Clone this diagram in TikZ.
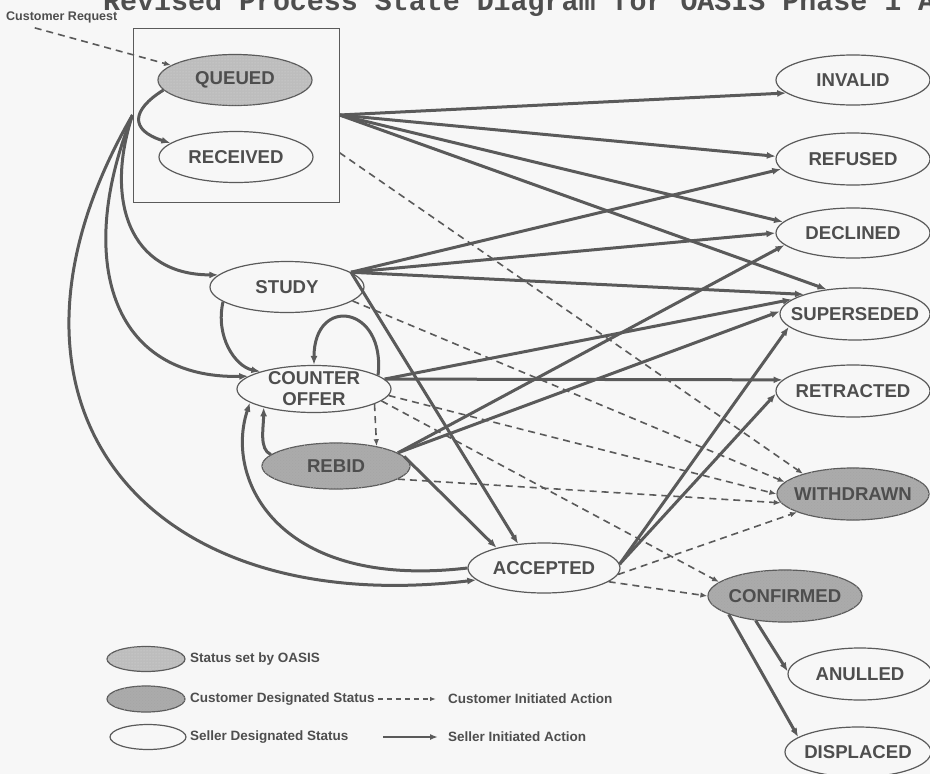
\documentclass[tikz,border=0pt]{standalone}
\usepackage{fontspec}
\setmainfont{Liberation Sans}
\newfontfamily\monofont{Liberation Mono}
\usetikzlibrary{shapes.geometric,arrows.meta,patterns}
\definecolor{lc}{HTML}{5A5A5A}
\definecolor{tc}{HTML}{4E4E4E}
\definecolor{bg}{HTML}{F7F7F7}
\definecolor{oasisfill}{HTML}{BDBDBD}
\definecolor{custfill}{HTML}{ABABAB}
\newcommand\nfont{\fontsize{18.6}{21}\selectfont\bfseries}
\newcommand\lgfont{\fontsize{13.5}{15}\selectfont\bfseries}
\newcommand\ttlfont{\monofont\bfseries\fontsize{28.3}{30}\selectfont}
\begin{document}
\begin{tikzpicture}[x=1pt,y=-1pt,
  lbl/.style={text=tc, font=\nfont, align=center, inner sep=0pt},
  st/.style={ellipse, draw=lc, line width=1.2pt, inner sep=0pt,
    minimum width=154pt, minimum height=51pt, fill=bg, label={[lbl]center:#1}},
  oasisst/.style={st=#1, fill=oasisfill, postaction={pattern=dots, pattern color=white!85!black}},
  custst/.style={st=#1, fill=custfill, postaction={pattern=crosshatch dots, pattern color=black!35}},
  sel/.style={draw=lc, line width=3pt, -{Latex[length=9pt,width=7pt]}},
  cust/.style={draw=lc, line width=1.6pt, dash pattern=on 7pt off 5pt, -{Latex[length=7pt,width=5.5pt]}},
  lgtext/.style={anchor=west, inner sep=0pt, text=tc, font=\lgfont},
]
\clip (0,0) rectangle (930,774);
\fill[bg] (0,0) rectangle (930,774);

% title and customer request
\node[anchor=base west, inner sep=0pt, font=\ttlfont, text=tc] (title) at (103,10) {Revised Process State Diagram for OASIS Phase 1 A};
\node[anchor=west, inner sep=0pt, font=\fontsize{12.5}{13}\selectfont\bfseries, text=tc] (cr) at (6,17) {Customer Request};

% states
\node[draw=lc, line width=1pt, minimum width=206pt, minimum height=174pt, inner sep=0pt] (box) at (236,115) {};
\node[oasisst={QUEUED}] (queued) at (235,80) {};
\node[st={RECEIVED}] (received) at (236,157) {};
\node[st={STUDY}] (study) at (287,287) {};
\node[st={COUNTER\\OFFER}, minimum height=47pt] (co) at (314,389) {};
\node[custst={REBID}, minimum width=148pt, minimum height=46pt] (rebid) at (336,466) {};
\node[st={ACCEPTED}, minimum width=152pt, minimum height=50pt] (acc) at (544,568) {};
\node[st={INVALID}, minimum height=50pt] (invalid) at (853,80) {};
\node[st={REFUSED}, minimum height=52pt] (refused) at (853,159) {};
\node[st={DECLINED}, minimum height=50pt] (declined) at (853,233) {};
\node[st={SUPERSEDED}, minimum width=150pt, minimum height=52pt] (superseded) at (855,314) {};
\node[st={RETRACTED}, minimum height=52pt] (retracted) at (853,391) {};
\node[custst={WITHDRAWN}, minimum width=152pt, minimum height=52pt] (withdrawn) at (853,494) {};
\node[custst={CONFIRMED}, minimum height=52pt] (confirmed) at (785,596) {};
\node[st={ANULLED}, minimum width=144pt, minimum height=52pt] (anulled) at (860,674) {};
\node[st={DISPLACED}, minimum width=146pt, minimum height=50pt] (displaced) at (858,752) {};

% seller initiated actions (curves)
\draw[sel] (queued.188) .. controls +(-32,20) and +(-41,-13) .. (received.168);
\draw[sel] (box.west) .. controls +(-28,85) and +(-89,0) .. (study.170);
\draw[sel] (box.west) .. controls +(-58,145) and +(-137,3) .. (co.169);
\draw[sel] (box.west) .. controls +(-165,285) and +(-337,40) .. (acc.190);
\draw[sel] (acc.180) .. controls +(-188,22) and +(-26,78) .. (co.192);
\draw[sel] (rebid.170) .. controls +(-12,-5) and +(0,20) .. (co.200);
\draw[sel] (study.193) .. controls +(-8,35) and +(-25,-5) .. (co.162);
\draw[sel] (co.12) .. controls +(8,-70) and +(0,-70) .. (co.90);

% seller initiated actions (straight)
\draw[sel] (box.east) -- (invalid.191);
\draw[sel] (box.east) -- (refused.178);
\draw[sel] (box.east) -- (declined.171);
\draw[sel] (box.east) -- (superseded.139);
\draw[sel] (study.13) -- (refused.188);
\draw[sel] (study.13) -- (declined.180);
\draw[sel] (study.13) -- (superseded.159);
\draw[sel] (study.13) -- (acc.137);
\draw[sel] (co.8) -- (superseded.167);
\draw[sel] (co.8) -- (retracted.171);
\draw[sel] (rebid.12) -- (declined.190);
\draw[sel] (rebid.12) -- (superseded.178);
\draw[sel] (rebid.8) -- (acc.157);
\draw[sel] (acc.3) -- (superseded.191);
\draw[sel] (acc.3) -- (retracted.182);
\draw[sel] (confirmed.220) -- (anulled.178);
\draw[sel] (confirmed.198) -- (displaced.166);

% customer initiated actions
\draw[cust] ([xshift=-27pt,yshift=-5pt]cr.south) -- (queued.167);
\draw[cust] (box.-20) -- (withdrawn.158);
\draw[cust] (study.-12) -- (withdrawn.170);
\draw[cust] (co.-5) -- (withdrawn.180);
\draw[cust] (co.-10) -- (confirmed.168);
\draw[cust] (co.-14) -- (rebid.26);
\draw[cust] (rebid.-12) -- (withdrawn.187);
\draw[cust] (acc.-5) -- (withdrawn.198);
\draw[cust] (acc.-12) -- (confirmed.180);

% legend
\node[oasisst={}, minimum width=78pt, minimum height=25pt] (lg1) at (146,659) {};
\node[lgtext] (lt1) at (190,659) {Status set by OASIS};
\node[custst={}, minimum width=78pt, minimum height=26pt] (lg2) at (146,699) {};
\node[lgtext] (lt2) at (190,699) {Customer Designated Status};
\node[lgtext] (la2) at (448,699) {Customer Initiated Action};
\draw[cust, line width=1.3pt, dash pattern=on 5pt off 4pt, -{Latex[length=6pt,width=4.5pt]}] ([xshift=3pt]lt2.east) -- ([xshift=-12pt]la2.west);
\node[st={}, minimum width=76pt, minimum height=25pt] (lg3) at (148,737) {};
\node[lgtext] (lt3) at (190,737) {Seller Designated Status};
\node[lgtext] (la3) at (448,737) {Seller Initiated Action};
\draw[sel, line width=2.5pt, -{Latex[length=8pt,width=6pt]}] ([xshift=-65pt]la3.west) -- ([xshift=-10pt]la3.west);
\end{tikzpicture}
\end{document}
